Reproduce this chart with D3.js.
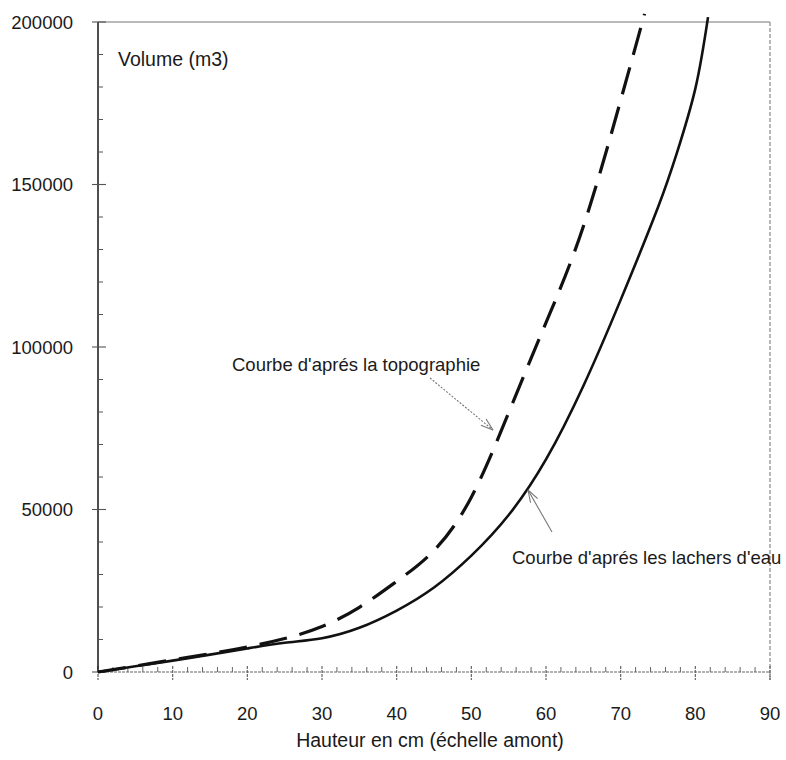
<!DOCTYPE html>
<html>
<head>
<meta charset="utf-8">
<script src="https://cdn.jsdelivr.net/npm/d3@7"></script>
<style>
html,body{margin:0;padding:0;background:#fff;}
svg{display:block;}
text{font-family:"Liberation Sans",Arial,Helvetica,sans-serif;fill:#1a1a1a;}
</style>
</head>
<body>
<svg id="chart" width="786" height="760"></svg>
<script>
// Hauteur (cm) and Volume (m3)
const hauteurLachers = [0, 5, 10, 15, 20, 25, 30, 35, 40, 45, 50, 55, 60, 65, 70, 75, 77.5, 80, 81.7];
const volumeLachers  = [0, 1750, 3500, 5350, 7250, 9000, 10400, 13600, 18900, 26000, 35800, 48300, 65400, 88000, 114500, 143000, 159500, 179500, 201500];

const hauteurTopo = [0, 5, 10, 15, 20, 25, 30, 35, 40, 45, 50, 55, 60, 65, 70, 73.2];
const volumeTopo  = [0, 1850, 3750, 5600, 7700, 10300, 14000, 19900, 27900, 37400, 53800, 79800, 107500, 137100, 175900, 202500];

const xTicks = [0, 10, 20, 30, 40, 50, 60, 70, 80, 90];
const yTicks = [0, 50000, 100000, 150000, 200000];

const labelTopo = "Courbe d'aprés la topographie";
const labelLachers = "Courbe d'aprés les lachers d'eau";
const yTitle = "Volume (m3)";
const xTitle = "Hauteur en cm (échelle amont)";

const svg = d3.select("#chart");
const L = 98, R = 770, T = 22, B = 672;
const x = d3.scaleLinear().domain([0, 90]).range([L, R]);
const y = d3.scaleLinear().domain([0, 200000]).range([B, T]);

// frame: top border & right border
svg.append("line").attr("x1", L).attr("x2", R).attr("y1", T).attr("y2", T)
  .attr("stroke", "#777").attr("stroke-width", 1.2);
svg.append("line").attr("x1", R).attr("x2", R).attr("y1", T).attr("y2", B + 8)
  .attr("stroke", "#888").attr("stroke-width", 1.2).attr("stroke-dasharray", "4,2");

// x axis
const gx = svg.append("g").attr("transform", `translate(0,${B})`);
gx.append("line").attr("x1", L).attr("x2", R).attr("stroke", "#666").attr("stroke-width", 1.2)
  .attr("stroke-dasharray", "3,1");
gx.selectAll("line.minor").data(d3.range(0, 91, 2).filter(v => v % 10 !== 0)).join("line")
  .attr("class", "minor").attr("x1", d => x(d)).attr("x2", d => x(d)).attr("y1", 0).attr("y2", -5)
  .attr("stroke", "#666").attr("stroke-width", 1);
gx.selectAll("line.major").data(xTicks).join("line")
  .attr("class", "major").attr("x1", d => x(d)).attr("x2", d => x(d)).attr("y1", -6).attr("y2", 8)
  .attr("stroke", "#666").attr("stroke-width", 1.2).attr("stroke-dasharray", "3,1");
gx.selectAll("text").data(xTicks).join("text")
  .attr("x", d => x(d)).attr("y", 48).attr("text-anchor", "middle")
  .attr("font-size", 18.5).text(d => d);

// y axis
const gy = svg.append("g").attr("transform", `translate(${L},0)`);
gy.append("line").attr("y1", T).attr("y2", B).attr("stroke", "#222").attr("stroke-width", 1.6);
gy.selectAll("line.minor").data(d3.range(0, 200001, 10000).filter(v => v % 50000 !== 0)).join("line")
  .attr("class", "minor").attr("y1", d => y(d)).attr("y2", d => y(d)).attr("x1", 0).attr("x2", 5)
  .attr("stroke", "#555").attr("stroke-width", 1);
gy.selectAll("line.major").data(yTicks).join("line")
  .attr("class", "major").attr("y1", d => y(d)).attr("y2", d => y(d)).attr("x1", -6).attr("x2", 8)
  .attr("stroke", "#555").attr("stroke-width", 1.1);
gy.selectAll("text").data(yTicks).join("text")
  .attr("x", -25).attr("y", d => y(d)).attr("dy", "0.36em").attr("text-anchor", "end")
  .attr("font-size", 18.5).text(d => d);

// titles
svg.append("text").attr("x", 118).attr("y", 66).attr("font-size", 19.5).text(yTitle);
svg.append("text").attr("x", 430).attr("y", 747).attr("text-anchor", "middle").attr("font-size", 19.5).text(xTitle);

// curves
const line = d3.line().x(d => x(d[0])).y(d => y(d[1])).curve(d3.curveNatural);
svg.append("path").datum(hauteurTopo.map((h, i) => [h, volumeTopo[i]]))
  .attr("d", line).attr("fill", "none").attr("stroke", "#111").attr("stroke-width", 3.2)
  .attr("stroke-dasharray", "28,13").attr("stroke-linecap", "butt");
svg.append("path").datum(hauteurLachers.map((h, i) => [h, volumeLachers[i]]))
  .attr("d", line).attr("fill", "none").attr("stroke", "#111").attr("stroke-width", 2.6);

// annotations
function arrow(x1, y1, x2, y2, dash) {
  const g = svg.append("g");
  g.append("line").attr("x1", x1).attr("y1", y1).attr("x2", x2).attr("y2", y2)
    .attr("stroke", "#777").attr("stroke-width", 1.1).attr("stroke-dasharray", dash || null);
  const a = Math.atan2(y2 - y1, x2 - x1), len = 13, sp = 0.32;
  [a + Math.PI - sp, a + Math.PI + sp].forEach(b => {
    g.append("line").attr("x1", x2).attr("y1", y2)
      .attr("x2", x2 + len * Math.cos(b)).attr("y2", y2 + len * Math.sin(b))
      .attr("stroke", "#777").attr("stroke-width", 1.1);
  });
}
arrow(430, 378, 493, 430, "2,1.5");
arrow(552, 532, 528, 490);

svg.append("text").attr("x", 232).attr("y", 371).attr("font-size", 18.5).text(labelTopo);
svg.append("text").attr("x", 512).attr("y", 564).attr("font-size", 18.5).text(labelLachers);
</script>
</body>
</html>
